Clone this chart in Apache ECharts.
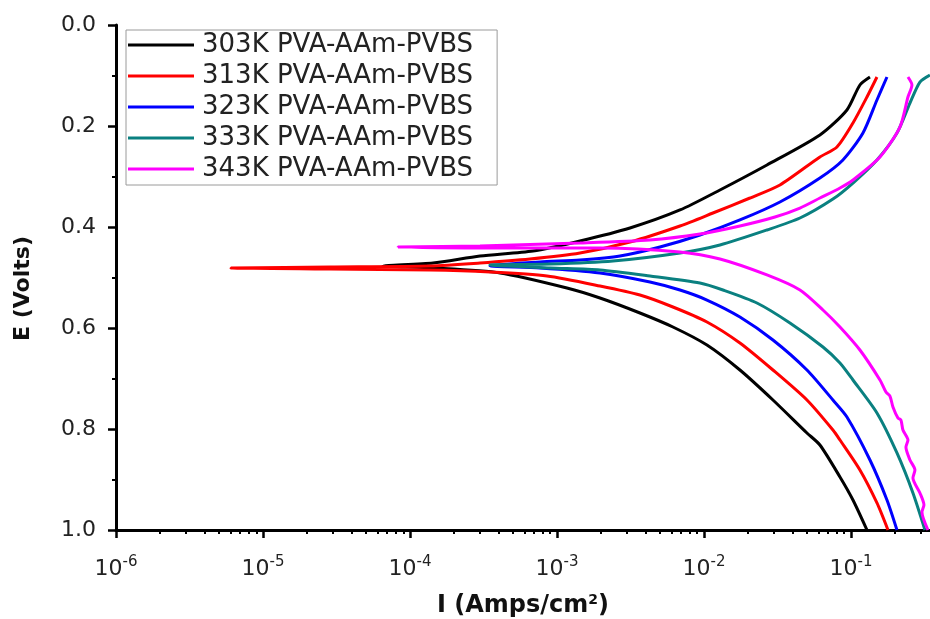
<!DOCTYPE html>
<html><head><meta charset="utf-8">
<script src="https://cdn.jsdelivr.net/npm/echarts@6/dist/echarts.min.js"></script>
<style>html,body{margin:0;padding:0;background:#fff}#c{width:930px;height:619px}</style>
</head><body><div id="c"></div>
<script>
// Series names and colours
const seriesNames = ['303K PVA-AAm-PVBS','313K PVA-AAm-PVBS','323K PVA-AAm-PVBS','333K PVA-AAm-PVBS','343K PVA-AAm-PVBS'];
const colors = ['#000000','#ff0000','#0000ff','#0a8080','#ff00ff'];

// Current density I (A/cm2) and potential E (V), path from cathodic end through Ecorr to anodic end
const i303 = [0.1285,0.1032,0.0842,0.0615,0.0502,0.02947,0.01757,0.01048,0.00615,0.003669,0.001962,0.001169,4.10e-4,1.434e-4,6.55e-5,1.434e-4,2.994e-4,6.87e-4,1.434e-3,3.138e-3,6.87e-3,1.285e-2,2.683e-2,0.0615,0.0939,0.1151,0.1347];
const e303 = [1.0,0.9406,0.8950,0.8317,0.8079,0.7426,0.6832,0.6337,0.5980,0.5703,0.5406,0.5208,0.4911,0.4812,0.4772,0.4713,0.4574,0.4475,0.4277,0.4020,0.3663,0.3267,0.2772,0.2178,0.1683,0.1188,0.1030];

const i313 = [0.1786,0.1503,0.1151,0.0842,0.0754,0.0502,0.02947,0.01757,0.01048,0.00615,0.003669,0.001962,8.55e-4,3.50e-4,1.368e-4,2.856e-5,6.06e-6,2.856e-5,1.368e-4,2.994e-4,6.55e-4,1.434e-3,3.138e-3,6.87e-3,0.01151,0.02056,0.03289,0.0615,0.0803,0.1032,0.1285,0.1503];
const e313 = [1.0,0.9465,0.8812,0.8218,0.8020,0.7426,0.6832,0.6297,0.5881,0.5584,0.5347,0.5168,0.4970,0.4891,0.4851,0.4832,0.4812,0.4792,0.4772,0.4713,0.4634,0.4515,0.4297,0.3980,0.3723,0.3426,0.3168,0.2614,0.2416,0.1941,0.1426,0.1030];

const i323 = [0.2056,0.1758,0.1347,0.0939,0.0754,0.0502,0.02947,0.01757,0.01048,0.00687,0.004292,0.001962,7.66e-4,3.50e-4,7.66e-4,1.434e-3,2.683e-3,5.02e-3,9.39e-3,0.01757,0.03289,0.0615,0.0882,0.1207,0.1503,0.1758];
const e323 = [1.0,0.9406,0.8614,0.7762,0.7426,0.6832,0.6238,0.5782,0.5446,0.5248,0.5089,0.4911,0.4812,0.4772,0.4693,0.4653,0.4574,0.4396,0.4158,0.3861,0.3505,0.3030,0.2673,0.2139,0.1485,0.1030];

const i333 = [0.3187,0.2641,0.2056,0.1503,0.1032,0.0842,0.0645,0.03846,0.02293,0.01347,0.00939,0.004292,0.001962,8.96e-4,3.50e-4,8.96e-4,2.404e-3,6.87e-3,0.01285,0.02683,0.04498,0.0754,0.1032,0.1503,0.2056,0.2520,0.2946,0.3446];
const e333 = [1.0,0.9267,0.8475,0.7683,0.7030,0.6693,0.6376,0.5901,0.5505,0.5248,0.5109,0.4970,0.4851,0.4812,0.4752,0.4733,0.4673,0.4515,0.4356,0.4059,0.3822,0.3446,0.3129,0.2673,0.2139,0.1545,0.1129,0.0990];

const i343 = [0.3341,0.3041,0.3138,0.2946,0.2641,0.2725,0.2520,0.2366,0.2443,0.2258,0.2188,0.2088,0.1931,0.1842,0.1730,0.1575,0.1151,0.0842,0.0645,0.04498,0.02683,0.01285,0.00687,0.001962,4.10e-4,8.29e-5,2.994e-4,1.434e-3,4.292e-3,9.39e-3,0.01757,0.03041,0.04498,0.0615,0.0842,0.1032,0.1575,0.2154,0.2443,0.2600,0.2443];
const e343 = [1.0,0.9644,0.9505,0.9267,0.8970,0.8812,0.8614,0.8356,0.8218,0.8020,0.7822,0.7782,0.7564,0.7347,0.7267,0.7030,0.6436,0.5980,0.5644,0.5248,0.4950,0.4634,0.4495,0.4416,0.4416,0.4396,0.4376,0.4317,0.4257,0.4139,0.3980,0.3802,0.3624,0.3426,0.3228,0.3069,0.2614,0.2020,0.1426,0.1188,0.1030];

// Axis ticks
const xMajorTicks = [1e-6,1e-5,1e-4,1e-3,1e-2,1e-1];
const xMinorMultipliers = [2,3,4,5,6,7,8,9];
const xMin = 1e-6, xMax = 0.345;
const yMin = 0, yMax = 1, yInterval = 0.2;

const xMinorTicks = [];
xMajorTicks.forEach(d => xMinorMultipliers.forEach(m => { const v = +(d*m).toPrecision(3); if (v < xMax) xMinorTicks.push(v); }));

const iSets = [i303,i313,i323,i333,i343];
const eSets = [e303,e313,e323,e333,e343];

const FONT = 'DejaVu Sans';
const G = {left: 116, right: 0, top: 25, bottom: 89, containLabel: false, outerBoundsMode: 'none'};
// thin strip grids just under the plot; their x axes sit on the strip's top edge and tick downward
const GT = {left: 116, right: 0, top: 530, height: 40, containLabel: false};
const hiddenY = g => ({type: 'value', gridIndex: g, inverse: true, min: yMin, max: yMax, show: false});
const tickX = (g, vals, len, w) => ({
  type: 'log', logBase: 10, gridIndex: g, min: xMin, max: xMax, position: 'bottom',
  axisLine: {show: false}, axisLabel: {show: false}, splitLine: {show: false},
  axisTick: {show: true, length: len, lineStyle: {color: '#000', width: w}, customValues: vals}
});

const chart = echarts.init(document.getElementById('c'), null, {renderer:'canvas'});
chart.setOption({
  animation: false,
  backgroundColor: '#ffffff',
  grid: [Object.assign({}, G), Object.assign({}, GT), Object.assign({}, GT)],
  legend: {
    data: seriesNames,
    orient: 'vertical',
    left: 126, top: 30,
    icon: 'rect', itemWidth: 66, itemHeight: 3, itemGap: 5,
    selectedMode: false,
    padding: [2, 24, 3, 2],
    borderColor: '#9a9a9a', borderWidth: 1, borderRadius: 0,
    backgroundColor: '#ffffff',
    textStyle: {fontFamily: FONT, fontSize: 26, color: '#222', padding: [0,0,0,3]}
  },
  xAxis: [{
    type: 'log', logBase: 10, gridIndex: 0, min: xMin, max: xMax,
    name: '{a|I (Amps/cm}{s|2}{a|)}', nameLocation: 'middle', nameGap: 63,
    nameTextStyle: {rich: {
      a: {fontFamily: FONT, fontWeight: 'bold', fontSize: 24, color: '#111'},
      s: {fontFamily: FONT, fontWeight: 'bold', fontSize: 14, color: '#111', padding: [0,0,12,0]}
    }},
    axisLine: {show: true, onZero: false, lineStyle: {color: '#000', width: 3}},
    axisTick: {show: false},
    axisLabel: {
      customValues: xMajorTicks, margin: 25,
      formatter: v => '{b|10}{s|' + Math.round(Math.log10(v)) + '}',
      rich: {
        b: {fontFamily: FONT, fontSize: 22, color: '#222'},
        s: {fontFamily: FONT, fontSize: 15, color: '#222', padding: [0,0,13,0]}
      }
    },
    splitLine: {show: false}
  },
  tickX(1, xMajorTicks, 8, 2.5),
  tickX(2, xMinorTicks, 4, 2)],
  yAxis: [{
    type: 'value', gridIndex: 0, inverse: true, min: yMin, max: yMax, interval: yInterval,
    name: 'E (Volts)', nameLocation: 'middle', nameGap: 82, nameRotate: 90,
    nameTextStyle: {fontFamily: FONT, fontWeight: 'bold', fontSize: 22, color: '#111', padding: [0,22,0,0]},
    axisLine: {show: true, onZero: false, lineStyle: {color: '#000', width: 3}},
    axisTick: {show: true, length: 8, lineStyle: {color: '#000', width: 2.5}},
    minorTick: {show: true, splitNumber: 2, length: 4, lineStyle: {color: '#000', width: 2}},
    axisLabel: {fontFamily: FONT, fontSize: 22, color: '#222', margin: 20, formatter: v => v.toFixed(1)},
    splitLine: {show: false}
  }, hiddenY(1), hiddenY(2)],
  series: seriesNames.map((n, k) => ({
    name: n, type: 'line', xAxisIndex: 0, yAxisIndex: 0,
    showSymbol: false, symbol: 'none', smooth: 0.25,
    data: iSets[k].map((v, j) => [v, eSets[k][j]]),
    lineStyle: {color: colors[k], width: 3},
    itemStyle: {color: colors[k]},
    z: 2 + k
  }))
});
</script></body></html>
